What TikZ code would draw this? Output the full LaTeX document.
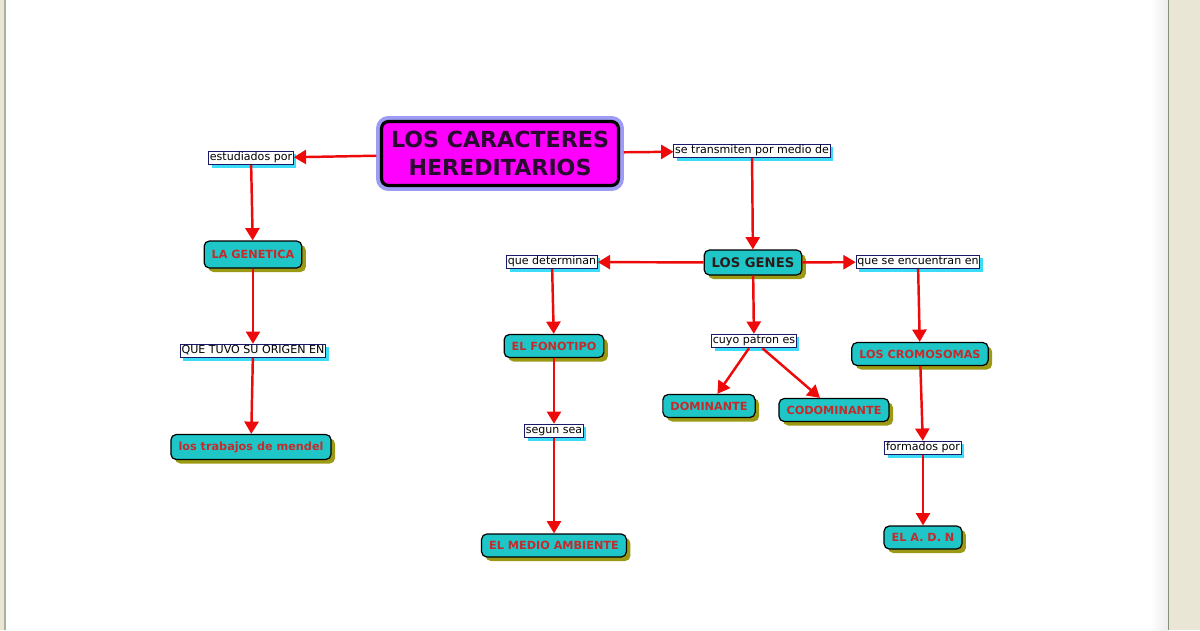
\documentclass[tikz,border=0pt]{standalone}
\usepackage{fontspec}
\setmainfont{DejaVu Sans}
\usepackage{xcolor}
\usepackage{tikz}
\usetikzlibrary{arrows.meta,shadows}
\definecolor{turq}{HTML}{1EC6C8}
\definecolor{olivesh}{HTML}{9C9A14}
\definecolor{nodered}{HTML}{C62A2A}
\definecolor{genestext}{HTML}{2B1B1B}
\definecolor{titletext}{HTML}{2A0A30}
\definecolor{titlefill}{HTML}{FF00FF}
\definecolor{linkred}{HTML}{EE0A0A}
\definecolor{skyshadow}{HTML}{3ADCF8}
\definecolor{labelframe}{HTML}{1A1A6A}
\definecolor{halo}{HTML}{9C9CF4}
\definecolor{pagebeige}{HTML}{EAE6D6}
\definecolor{pageline}{HTML}{A9B496}
\tikzset{
title/.style={
draw=black,
line width=1.8pt,
rounded corners=4pt,
fill=titlefill,
text=titletext,
font=\fontsize{12.6}{15.9}\selectfont\bfseries,
align=center,
minimum width=4.74cm,
minimum height=1.28cm,
outer sep=3pt,
preaction={draw=halo,line width=6.2pt}
},
concept/.style={
draw=black,
line width=0.7pt,
rounded corners=3pt,
fill=turq,
text=nodered,
font=\fontsize{6.4}{8}\selectfont\bfseries,
inner xsep=4.3pt,
minimum height=0.46cm,
drop shadow={fill=olivesh,opacity=1,shadow xshift=0.08cm,shadow yshift=-0.08cm}
},
link/.style={
draw=labelframe,
fill=white,
line width=0.5pt,
font=\fontsize{6.3}{7.5}\selectfont,
inner sep=0.7pt,
text height=4.8pt,
text depth=1.5pt,
drop shadow={fill=skyshadow,opacity=1,shadow xshift=0.06cm,shadow yshift=-0.06cm}
},
arrow/.style={
-{Triangle[length=7pt,width=8pt]},
draw=linkred,
line width=1.4pt
}
}
\begin{document}
\begin{tikzpicture}[x=0.02cm,y=-0.02cm]

\useasboundingbox (0,0) rectangle (1200,630);
% page frame
\fill[white] (0,0) rectangle (1200,630);
\fill[pagebeige] (0,0) rectangle (4,630);
\fill[pageline] (4,0) rectangle (6,630);
\shade[left color=white,right color=gray!14] (1150,0) rectangle (1168,630);
\fill[pageline!80!black] (1168,0) rectangle (1169,630);
\fill[pagebeige] (1169,0) rectangle (1200,630);

\node[title](caract) at (500,153.5){LOS CARACTERES\\HEREDITARIOS};

\node[link](estpor) at (251,158){estudiados por};
\node[concept,minimum height=0.54cm](genetica) at (253,254.5){LA GENETICA};
\node[link](origen) at (253,351){QUE TUVO SU ORIGEN EN};
\node[concept,minimum height=0.5cm](mendel) at (251,447){los trabajos de mendel};

\node[link](transm) at (752,151){se transmiten por medio de};
\node[concept,minimum height=0.5cm,text=genestext,font=\fontsize{7.5}{9}\selectfont\bfseries](genes) at (753,262.5){LOS GENES};

\node[link](determ) at (552,262){que determinan};
\node[concept](fonotipo) at (554,346){EL FONOTIPO};
\node[link](segun) at (554,431){segun sea};
\node[concept](medio) at (554,545.5){EL MEDIO AMBIENTE};

\node[link](patron) at (754,341){cuyo patron es};
\node[concept](domin) at (709,406){DOMINANTE};
\node[concept](codomin) at (834,410){CODOMINANTE};

\node[link](encuen) at (918,262){que se encuentran en};
\node[concept](cromos) at (920,354){LOS CROMOSOMAS};
\node[link](formados) at (923,448){formados por};
\node[concept](adn) at (923,537.5){EL A. D. N};

\foreach \x/\y in {caract/estpor,estpor/genetica,genetica/origen,origen/mendel,caract/transm,transm/genes,genes/determ,determ/fonotipo,fonotipo/segun,segun/medio,genes/encuen,encuen/cromos,genes/patron,patron/domin,patron/codomin,cromos/formados,formados/adn}
\draw[arrow](\x)--(\y);

\end{tikzpicture}
\end{document}
